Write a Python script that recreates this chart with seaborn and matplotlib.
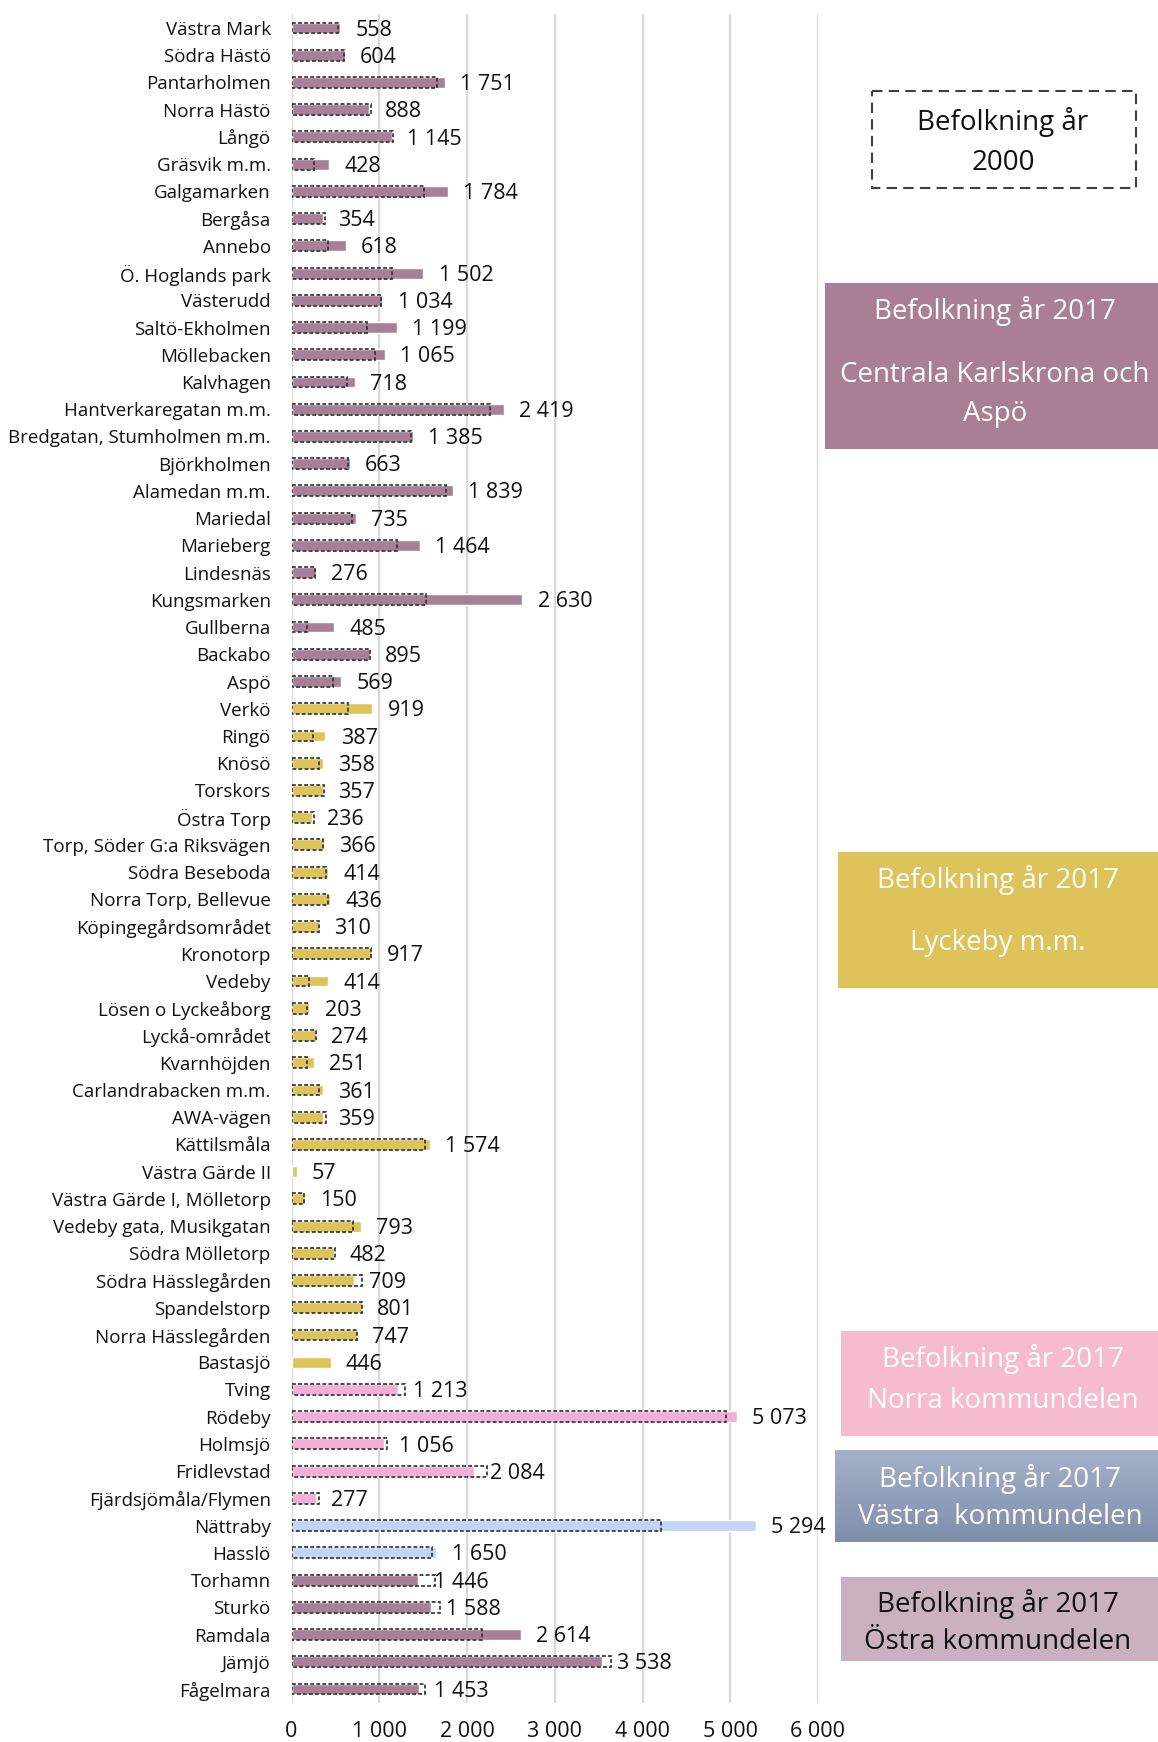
import numpy as np
import pandas as pd
import matplotlib
matplotlib.use("Agg")
import matplotlib.pyplot as plt
from matplotlib.patches import Rectangle
import seaborn as sns

# ----------------------------------------------------------------------
# DATA
# ----------------------------------------------------------------------
areas_central = [
    "Västra Mark", "Södra Hästö", "Pantarholmen", "Norra Hästö", "Långö",
    "Gräsvik m.m.", "Galgamarken", "Bergåsa", "Annebo", "Ö. Hoglands park",
    "Västerudd", "Saltö-Ekholmen", "Möllebacken", "Kalvhagen",
    "Hantverkaregatan m.m.", "Bredgatan, Stumholmen m.m.", "Björkholmen",
    "Alamedan m.m.", "Mariedal", "Marieberg", "Lindesnäs", "Kungsmarken",
    "Gullberna", "Backabo", "Aspö",
]
pop2017_central = [558, 604, 1751, 888, 1145, 428, 1784, 354, 618, 1502,
                   1034, 1199, 1065, 718, 2419, 1385, 663, 1839, 735, 1464,
                   276, 2630, 485, 895, 569]
pop2000_central = [534, 597, 1657, 902, 1152, 258, 1508, 381, 419, 1144,
                   1017, 860, 953, 636, 2258, 1360, 648, 1763, 690, 1200,
                   267, 1538, 174, 890, 470]

areas_lyckeby = [
    "Verkö", "Ringö", "Knösö", "Torskors", "Östra Torp",
    "Torp, Söder G:a Riksvägen", "Södra Beseboda", "Norra Torp, Bellevue",
    "Köpingegårdsområdet", "Kronotorp", "Vedeby", "Lösen o Lyckeåborg",
    "Lyckå-området", "Kvarnhöjden", "Carlandrabacken m.m.", "AWA-vägen",
    "Kättilsmåla", "Västra Gärde II", "Västra Gärde I, Mölletorp",
    "Vedeby gata, Musikgatan", "Södra Mölletorp", "Södra Hässlegården",
    "Spandelstorp", "Norra Hässlegården", "Bastasjö",
]
pop2017_lyckeby = [919, 387, 358, 357, 236, 366, 414, 436, 310, 917, 414,
                   203, 274, 251, 361, 359, 1574, 57, 150, 793, 482, 709,
                   801, 747, 446]
pop2000_lyckeby = [648, 246, 318, 373, 258, 360, 394, 411, 309, 911, 195,
                   182, 280, 182, 318, 394, 1521, 0, 148, 703, 500, 809,
                   805, 746, 0]

areas_norra = ["Tving", "Rödeby", "Holmsjö", "Fridlevstad", "Fjärdsjömåla/Flymen"]
pop2017_norra = [1213, 5073, 1056, 2084, 277]
pop2000_norra = [1294, 4950, 1088, 2225, 312]

areas_vastra = ["Nättraby", "Hasslö"]
pop2017_vastra = [5294, 1650]
pop2000_vastra = [4206, 1606]

areas_ostra = ["Torhamn", "Sturkö", "Ramdala", "Jämjö", "Fågelmara"]
pop2017_ostra = [1446, 1588, 2614, 3538, 1453]
pop2000_ostra = [1631, 1694, 2169, 3644, 1519]

groups = ["Centrala Karlskrona och Aspö", "Lyckeby m.m.", "Norra kommundelen",
          "Västra kommundelen", "Östra kommundelen"]
group_colors = ["#A87F95", "#DEC35A", "#F0AED8", "#C2D5F8", "#A87F94"]

x_ticks = [0, 1000, 2000, 3000, 4000, 5000, 6000]

# ----------------------------------------------------------------------
# BUILD TABLE
# ----------------------------------------------------------------------
parts = [
    (areas_central, pop2017_central, pop2000_central, groups[0]),
    (areas_lyckeby, pop2017_lyckeby, pop2000_lyckeby, groups[1]),
    (areas_norra, pop2017_norra, pop2000_norra, groups[2]),
    (areas_vastra, pop2017_vastra, pop2000_vastra, groups[3]),
    (areas_ostra, pop2017_ostra, pop2000_ostra, groups[4]),
]
frames = []
for a, v17, v00, g in parts:
    frames.append(pd.DataFrame({"area": a, "pop2017": v17, "pop2000": v00, "group": g}))
df = pd.concat(frames, ignore_index=True)
df["pop2000_plot"] = df["pop2000"].replace(0, np.nan)  # no 2000 bar drawn
order = list(df["area"])

def fmt_sv(v):
    return f"{v:,.0f}".replace(",", " ")

# ----------------------------------------------------------------------
# PLOT
# ----------------------------------------------------------------------
sns.set_style("white")
plt.rcParams["font.family"] = ["Open Sans", "DejaVu Sans"]

fig = plt.figure(figsize=(11.58, 17.42), dpi=100)
ax = fig.add_axes([291.5 / 1158, 1 - 1702.6 / 1742, (818 - 291.5) / 1158, (1702.6 - 14.4) / 1742])

sns.barplot(data=df, y="area", x="pop2017", hue="group", order=order,
            hue_order=groups, palette=group_colors, dodge=False, width=0.4,
            saturation=1, errorbar=None, legend=False, ax=ax)
bars17 = list(ax.containers)

sns.barplot(data=df, y="area", x="pop2000_plot", order=order, fill=False,
            color="#333333", width=0.4, linewidth=1.25, errorbar=None, ax=ax)
for c in ax.containers[len(bars17):]:
    for p in c:
        p.set_linestyle((0, (2.2, 1.3)))
        p.set_facecolor("none")

for c in bars17:
    for t in ax.bar_label(c, fmt=fmt_sv, padding=11, fontsize=15.5, color="#111111"):
        t.xyann = (11, -1.5)

ax.set_xlim(0, 6000)
ax.set_xticks(x_ticks)
ax.set_xticklabels([fmt_sv(t) for t in x_ticks])
ax.set_xlabel("")
ax.set_ylabel("")
ax.grid(axis="x", color="#D9D9D9", linewidth=1.6)
ax.set_axisbelow(True)
sns.despine(ax=ax, left=True, bottom=True)
ax.tick_params(axis="y", length=0, pad=15, labelsize=13.5, labelcolor="#111111")
ax.tick_params(axis="x", length=0, pad=13, labelsize=15.5, labelcolor="#111111")

# ----------------------------------------------------------------------
# SIDE BOXES (figure pixel coordinates)
# ----------------------------------------------------------------------
ov = fig.add_axes([0, 0, 1, 1])
ov.set_xlim(0, 1158)
ov.set_ylim(1742, 0)
ov.axis("off")
ov.patch.set_alpha(0)

box_fs = 20

ov.add_patch(Rectangle((872, 91), 264, 97, facecolor="none", edgecolor="#404040",
                       linewidth=1.5, linestyle=(0, (5, 3))))
ov.text(1003, 122, "Befolkning år", ha="center", va="center", fontsize=box_fs, color="#111111")
ov.text(1003, 163, "2000", ha="center", va="center", fontsize=box_fs, color="#111111")

ov.add_patch(Rectangle((825, 283), 333, 166, facecolor="#A87F95", edgecolor="none"))
ov.text(995, 311, "Befolkning år 2017", ha="center", va="center", fontsize=box_fs, color="white")
ov.text(995, 375, "Centrala Karlskrona och", ha="center", va="center", fontsize=box_fs, color="white")
ov.text(995, 414, "Aspö", ha="center", va="center", fontsize=box_fs, color="white")

ov.add_patch(Rectangle((838, 852), 320, 136, facecolor="#DEC35A", edgecolor="none"))
ov.text(998, 880, "Befolkning år 2017", ha="center", va="center", fontsize=box_fs, color="white")
ov.text(998, 943, "Lyckeby m.m.", ha="center", va="center", fontsize=box_fs, color="white")

ov.add_patch(Rectangle((841, 1331), 317, 105, facecolor="#F7BBD0", edgecolor="none"))
ov.text(1003, 1359, "Befolkning år 2017", ha="center", va="center", fontsize=box_fs, color="white")
ov.text(1003, 1401, "Norra kommundelen", ha="center", va="center", fontsize=box_fs, color="white")

grad = np.linspace(0, 1, 64).reshape(-1, 1)
cmap = matplotlib.colors.LinearSegmentedColormap.from_list("vg", ["#A4B1C9", "#7F8EAB"])
ov.imshow(grad, cmap=cmap, aspect="auto", extent=(835, 1158, 1542, 1451), zorder=1)
ov.set_xlim(0, 1158)
ov.set_ylim(1742, 0)
ov.text(1000, 1479, "Befolkning år 2017", ha="center", va="center", fontsize=box_fs, color="white", zorder=3)
ov.text(1000, 1517, "Västra  kommundelen", ha="center", va="center", fontsize=box_fs, color="white", zorder=3)

ov.add_patch(Rectangle((841, 1577), 317, 84, facecolor="#C9B1BF", edgecolor="none"))
ov.text(998, 1604, "Befolkning år 2017", ha="center", va="center", fontsize=box_fs, color="#111111")
ov.text(998, 1642, "Östra kommundelen", ha="center", va="center", fontsize=box_fs, color="#111111")

fig.savefig("out.png", dpi=100)
